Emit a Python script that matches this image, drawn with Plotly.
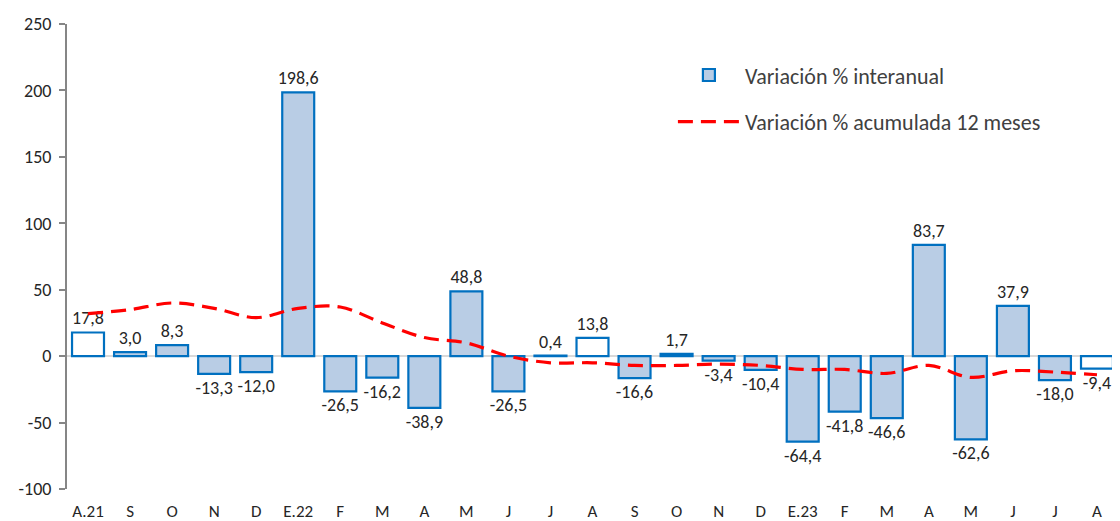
import plotly.graph_objects as go

categories = ["A.21", "S", "O", "N", "D", "E.22", "F", "M", "A", "M", "J", "J", "A",
              "S", "O", "N", "D", "E.23", "F", "M", "A", "M", "J", "J", "A"]
interanual = [17.8, 3.0, 8.3, -13.3, -12.0, 198.6, -26.5, -16.2, -38.9, 48.8, -26.5, 0.4, 13.8,
              -16.6, 1.7, -3.4, -10.4, -64.4, -41.8, -46.6, 83.7, -62.6, 37.9, -18.0, -9.4]
acumulada = [32, 35, 40, 36, 29, 36, 37, 25, 14, 10, 0, -5, -5,
             -7, -7, -6, -7, -10, -10, -13, -7, -16, -11, -12, -14]
white_idx = [0, 11, 12, 14, 24]

x = list(range(len(categories)))
labels = [f"{v:.1f}".replace(".", ",") for v in interanual]
fills = ["#FFFFFF" if i in white_idx else "#B9CDE5" for i in x]

FONT = "Carlito, Calibri, Lato, sans-serif"
BAR_LINE = "#0070C0"

fig = go.Figure()
fig.add_trace(go.Bar(
    x=x, y=interanual, name="Variación % interanual",
    marker=dict(color=fills, line=dict(color=BAR_LINE, width=2.2)),
    width=0.76, text=labels, textposition="outside", cliponaxis=False,
    constraintext="none",
    textfont=dict(family=FONT, size=18, color="#262626"),
    showlegend=False, hoverinfo="skip",
))
# legend entry for the bars
fig.add_trace(go.Bar(
    x=[None], y=[None], name="Variación % interanual",
    marker=dict(color="#B9CDE5", line=dict(color=BAR_LINE, width=2.2)),
    legendgroup="a", showlegend=True, hoverinfo="skip",
))
fig.add_trace(go.Scatter(
    x=x, y=acumulada, name="Variación % acumulada 12 meses", mode="lines",
    line=dict(color="#FF0000", width=3.2, dash="15px,8px", shape="spline", smoothing=1.0),
    legendgroup="b", hoverinfo="skip",
))

fig.update_layout(
    width=1112, height=513,
    margin=dict(l=59, r=2, t=16, b=32, autoexpand=False),
    plot_bgcolor="white", paper_bgcolor="white",
    font=dict(family=FONT, size=17, color="#262626"),
    showlegend=True,
    legend=dict(x=0.5765, y=0.935, xanchor="left", yanchor="top",
                font=dict(family=FONT, size=22, color="#404040"),
                itemwidth=62,
                tracegroupgap=15, bgcolor="rgba(0,0,0,0)"),
    barmode="overlay",
)
fig.update_xaxes(
    tickmode="array", tickvals=x, ticktext=categories,
    range=[-0.5, len(categories) - 0.5], automargin=False,
    showgrid=False, showline=False, zeroline=False, ticks="",
    ticklabelstandoff=10, tickfont=dict(family=FONT, size=17, color="#262626"),
)
fig.update_yaxes(
    range=[-100, 250], tickmode="array", tickvals=[-100, -50, 0, 50, 100, 150, 200, 250],
    ticktext=["-100", "-50", "0", "50", "100", "150", "200", "250"],
    automargin=False,
    showgrid=False, showline=True, linecolor="#868686", linewidth=2,
    ticks="outside", ticklen=6, tickcolor="#868686", tickwidth=1.5,
    zeroline=True, zerolinecolor="#D9D9D9", zerolinewidth=2,
    ticklabelstandoff=4,
    tickfont=dict(family=FONT, size=18, color="#262626"),
)

fig.write_html("out.html")
